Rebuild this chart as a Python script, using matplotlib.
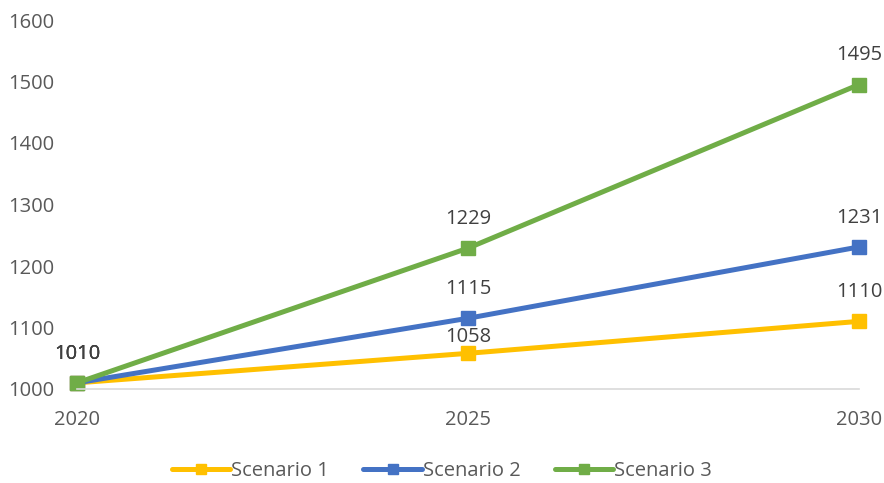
import matplotlib.pyplot as plt

plt.rcParams['font.family'] = ['Open Sans', 'DejaVu Sans']

years = [2020, 2025, 2030]
scenario1 = [1010, 1058, 1110]
scenario2 = [1010, 1115, 1231]
scenario3 = [1010, 1229, 1495]
names = ['Scenario 1', 'Scenario 2', 'Scenario 3']
colors = ['#FFC000', '#4472C4', '#70AD47']
# label offsets above the point (points)
offsets = [[21, 11.5, 21], [21, 21, 21], [21, 21, 21]]

fig = plt.figure(figsize=(8.84, 4.83), dpi=100)
ax = fig.add_axes([77 / 884, 1 - 389 / 483, 782 / 884, 369 / 483])

for vals, name, c, offs in zip([scenario1, scenario2, scenario3], names, colors, offsets):
    ax.plot(years, vals, color=c, lw=3.6, marker='s', markersize=9.5,
            label=name, solid_capstyle='round', clip_on=False)
    for x, y, o in zip(years, vals, offs):
        ax.annotate(str(y), (x, y), xytext=(0, o), textcoords='offset points',
                    ha='center', va='center', fontsize=14.5, color='#404040')

ax.set_xlim(2020, 2030)
ax.set_ylim(1000, 1600)
ax.set_xticks(years)
ax.set_yticks(range(1000, 1700, 100))
ax.tick_params(length=0, labelsize=14.5, labelcolor='#595959')
ax.tick_params(axis='x', pad=15)
ax.tick_params(axis='y', pad=16)
for s in ['top', 'right', 'left']:
    ax.spines[s].set_visible(False)
ax.spines['bottom'].set_color('#D9D9D9')
ax.spines['bottom'].set_linewidth(1.2)

leg = fig.legend(loc='center', bbox_to_anchor=(0.5, 1 - 471 / 483), ncol=3,
                 frameon=False, fontsize=14.5, handlelength=2.9, columnspacing=1.7,
                 handletextpad=0.05, borderpad=0.1)
for h in leg.legend_handles:
    h.set_markersize(6.5)
for t in leg.get_texts():
    t.set_color('#595959')

fig.savefig('out.png', dpi=100)
